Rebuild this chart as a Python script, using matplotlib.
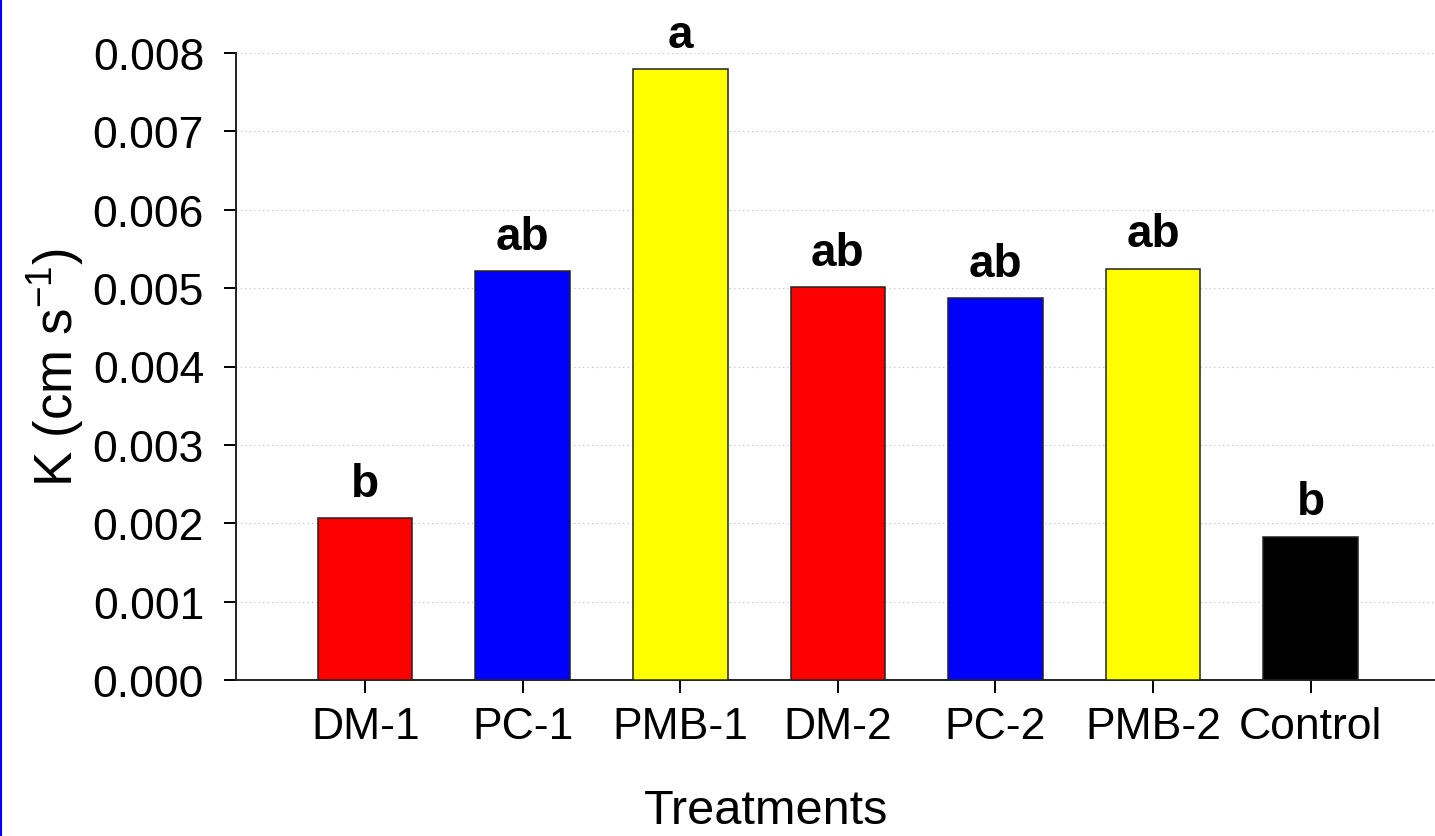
import numpy as np
import matplotlib.pyplot as plt
from matplotlib.lines import Line2D

plt.rcParams['font.family'] = ['Liberation Sans', 'DejaVu Sans']
plt.rcParams['mathtext.default'] = 'regular'

treatments = ['DM-1', 'PC-1', 'PMB-1', 'DM-2', 'PC-2', 'PMB-2', 'Control']
k_values = [0.00207, 0.00522, 0.00779, 0.00501, 0.00487, 0.00525, 0.00183]
letters = ['b', 'ab', 'a', 'ab', 'ab', 'ab', 'b']
colors = ['#ff0000', '#0000ff', '#ffff00', '#ff0000', '#0000ff', '#ffff00', '#000000']

W, H = 1435, 837
fig = plt.figure(figsize=(W / 100, H / 100), dpi=100)
ax = fig.add_axes([236 / W, (H - 681) / H, (W - 236) / W, 627 / H])

x = np.arange(len(treatments))
ax.bar(x, k_values, width=0.6, color=colors, edgecolor='#222222', linewidth=1.1, zorder=3)

# significance letters above the bars
for xi, v, lab in zip(x, k_values, letters):
    ax.annotate(lab, (xi, v), xytext=(0, 16), textcoords='offset points',
                ha='center', va='baseline', fontsize=33, fontweight='bold')

ax.set_xlim(-0.82, 6.79)
ax.set_ylim(0, 0.008)
yt = np.arange(0, 0.0081, 0.001)
ax.set_yticks(yt)
ax.set_yticklabels(['%.3f' % t for t in yt])
ax.set_xticks(x)
ax.set_xticklabels(treatments)

ax.grid(axis='y', linestyle=(0, (1, 3)), color='#bbbbbb', linewidth=0.8, zorder=0)
ax.set_axisbelow(True)

for s in ['top', 'right']:
    ax.spines[s].set_visible(False)
for s in ['left', 'bottom']:
    ax.spines[s].set_linewidth(1.4)
    ax.spines[s].set_color('#222222')

ax.tick_params(axis='y', direction='out', length=9, width=1.4, pad=14, labelsize=32)
ax.tick_params(axis='x', direction='out', length=9.5, width=1.4, pad=9, labelsize=32)

fig.text(56 / W, 1 - 368 / H, 'K (cm s$^{-1}$)', rotation=90, ha='center', va='center', fontsize=38)
fig.text(766 / W, 1 - 812 / H, 'Treatments', ha='center', va='center', fontsize=35)

# blue border on the left edge of the picture
fig.add_artist(Line2D([1 / W, 1 / W], [0, 1], transform=fig.transFigure, color='#0000ff', linewidth=1.5))

fig.savefig('out.png', dpi=100)
